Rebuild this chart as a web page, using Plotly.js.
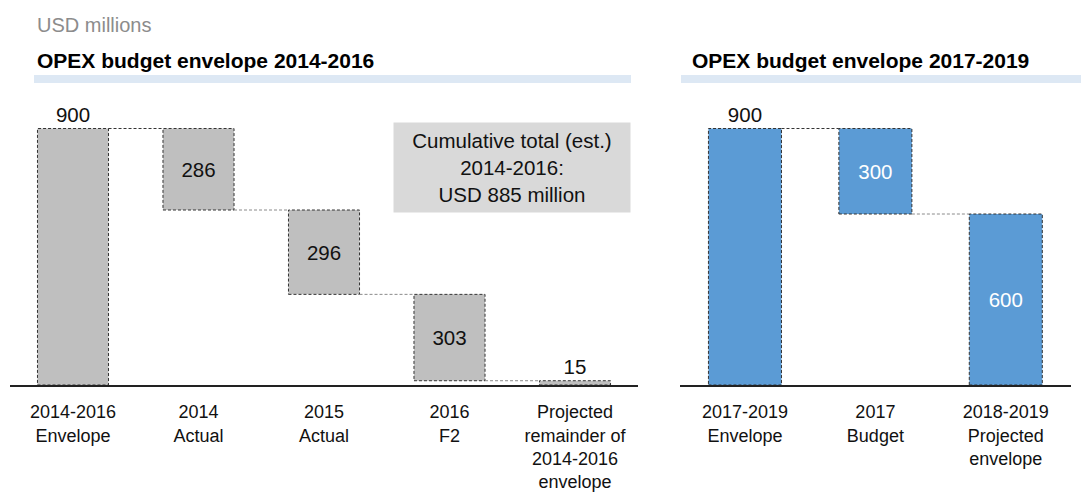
<!DOCTYPE html>
<html>
<head>
<meta charset="utf-8">
<script src="https://cdn.plot.ly/plotly-3.0.1.min.js"></script>
<style>
html,body{margin:0;padding:0;background:#fff;}
#chart{width:1081px;height:496px;}
</style>
</head>
<body>
<div id="chart"></div>
<script>
// ---- data ----
var leftCategories = ["2014-2016<br>Envelope", "2014<br>Actual", "2015<br>Actual", "2016<br>F2", "Projected<br>remainder of<br>2014-2016<br>envelope"];
var leftValues = [900, 286, 296, 303, 15];
var rightCategories = ["2017-2019<br>Envelope", "2017<br>Budget", "2018-2019<br>Projected<br>envelope"];
var rightValues = [900, 300, 600];
var leftTitle = "OPEX budget envelope 2014-2016";
var rightTitle = "OPEX budget envelope 2017-2019";
var unitLabel = "USD millions";
var noteLines = ["Cumulative total (est.)", "2014-2016:", "USD 885 million"];

// ---- helpers ----
var W = 1081, H = 496;
function px(x){ return x / W; }
function py(y){ return (H - y) / H; }
var FONT = "Liberation Sans, Arial, sans-serif";

// waterfall bases: first bar from 0, following bars step down
function bases(vals){
  var b = [0], running = vals[0];
  for (var i = 1; i < vals.length; i++){ running -= vals[i]; b.push(running); }
  return b;
}
var leftBases = bases(leftValues);
var rightBases = bases(rightValues);
var leftIdx = leftValues.map(function(_, i){ return i; });
var rightIdx = rightValues.map(function(_, i){ return i; });
var wL = 0.566, wR = 0.56;

var traces = [
  {
    type: "bar", x: leftIdx, y: leftValues, base: leftBases, width: wL,
    xaxis: "x", yaxis: "y",
    marker: {color: "#bfbfbf", line: {width: 0}},
    text: leftValues.map(String),
    textposition: leftValues.map(function(v, i){ return (i === 0 || i === leftValues.length - 1) ? "outside" : "inside"; }),
    insidetextanchor: "middle", textangle: 0, constraintext: "none",
    textfont: {family: FONT, size: 20.5, color: "#111"},
    outsidetextfont: {family: FONT, size: 20.5, color: "#111"},
    insidetextfont: {family: FONT, size: 20.5, color: "#111"},
    cliponaxis: false, hoverinfo: "skip"
  },
  {
    type: "bar", x: rightIdx, y: rightValues, base: rightBases, width: wR,
    xaxis: "x2", yaxis: "y2",
    marker: {color: "#5b9bd5", line: {width: 0}},
    text: rightValues.map(String),
    textposition: rightValues.map(function(v, i){ return i === 0 ? "outside" : "inside"; }),
    insidetextanchor: "middle", textangle: 0, constraintext: "none",
    textfont: {family: FONT, size: 20.5, color: "#ffffff"},
    outsidetextfont: {family: FONT, size: 20.5, color: "#111"},
    insidetextfont: {family: FONT, size: 20.5, color: "#ffffff"},
    cliponaxis: false, hoverinfo: "skip"
  }
];

var shapes = [
  {type: "rect", xref: "paper", yref: "paper", x0: px(34), x1: px(631), y0: py(83), y1: py(75), fillcolor: "#dde8f4", line: {width: 0}, layer: "below"},
  {type: "rect", xref: "paper", yref: "paper", x0: px(681), x1: px(1081), y0: py(83), y1: py(75), fillcolor: "#dde8f4", line: {width: 0}, layer: "below"}
];
function addOutlines(vals, bs, w, xr, yr){
  for (var i = 0; i < vals.length; i++){
    shapes.push({type: "rect", xref: xr, yref: yr, x0: i - w/2, x1: i + w/2, y0: bs[i], y1: bs[i] + vals[i],
      line: {color: "#333333", width: 1, dash: "3px,2px"}, fillcolor: "rgba(0,0,0,0)", layer: "above"});
    if (i < vals.length - 1){
      var lvl = bs[i + 1] + vals[i + 1];
      shapes.push({type: "line", xref: xr, yref: yr, x0: i + w/2, x1: i + 1 - w/2, y0: lvl, y1: lvl,
        line: {color: i === 0 ? "#333333" : "#8a8a8a", width: 1, dash: "3px,2px"}, layer: "above"});
    }
  }
}
addOutlines(leftValues, leftBases, wL, "x", "y");
addOutlines(rightValues, rightBases, wR, "x2", "y2");

var annotations = [
  {xref: "paper", yref: "paper", x: px(35), y: py(25), xanchor: "left", yanchor: "middle", showarrow: false,
   text: unitLabel, font: {family: FONT, size: 20, color: "#8c8c8c"}},
  {xref: "paper", yref: "paper", x: px(35), y: py(60), xanchor: "left", yanchor: "middle", showarrow: false,
   text: "<b>" + leftTitle + "</b>", font: {family: FONT, size: 21, color: "#000"}},
  {xref: "paper", yref: "paper", x: px(690), y: py(60), xanchor: "left", yanchor: "middle", showarrow: false,
   text: "<b>" + rightTitle + "</b>", font: {family: FONT, size: 21, color: "#000"}},
  {xref: "paper", yref: "paper", x: px(512), y: py(167.5), xanchor: "center", yanchor: "middle", showarrow: false,
   text: noteLines.join("<br>"), align: "center", width: 236, height: 89, borderpad: 0,
   bgcolor: "#d9d9d9", font: {family: FONT, size: 20.5, color: "#111"}}
];

var yDom = [py(385), py(100)];
var tickFont = {family: FONT, size: 18, color: "#111"};
var layout = {
  width: W, height: H,
  margin: {l: 0, r: 0, t: 0, b: 0},
  paper_bgcolor: "#fff", plot_bgcolor: "rgba(0,0,0,0)",
  showlegend: false, barmode: "overlay",
  xaxis: {domain: [px(10.25), px(637.75)], range: [-0.5, leftValues.length - 0.5], tickvals: leftIdx, ticktext: leftCategories,
    showline: true, linecolor: "#222", linewidth: 1.5, showgrid: false, zeroline: false, ticks: "",
    ticklabelstandoff: 10, tickfont: tickFont, fixedrange: true},
  yaxis: {domain: yDom, range: [0, 1000], visible: false, fixedrange: true},
  xaxis2: {domain: [px(679.75), px(1071)], range: [-0.5, rightValues.length - 0.5], tickvals: rightIdx, ticktext: rightCategories,
    showline: true, linecolor: "#222", linewidth: 1.5, showgrid: false, zeroline: false, ticks: "",
    ticklabelstandoff: 10, tickfont: tickFont, fixedrange: true, anchor: "y2"},
  yaxis2: {domain: yDom, range: [0, 1000], visible: false, fixedrange: true, anchor: "x2"},
  shapes: shapes,
  annotations: annotations
};

Plotly.newPlot("chart", traces, layout, {staticPlot: true, displayModeBar: false});
</script>
</body>
</html>
